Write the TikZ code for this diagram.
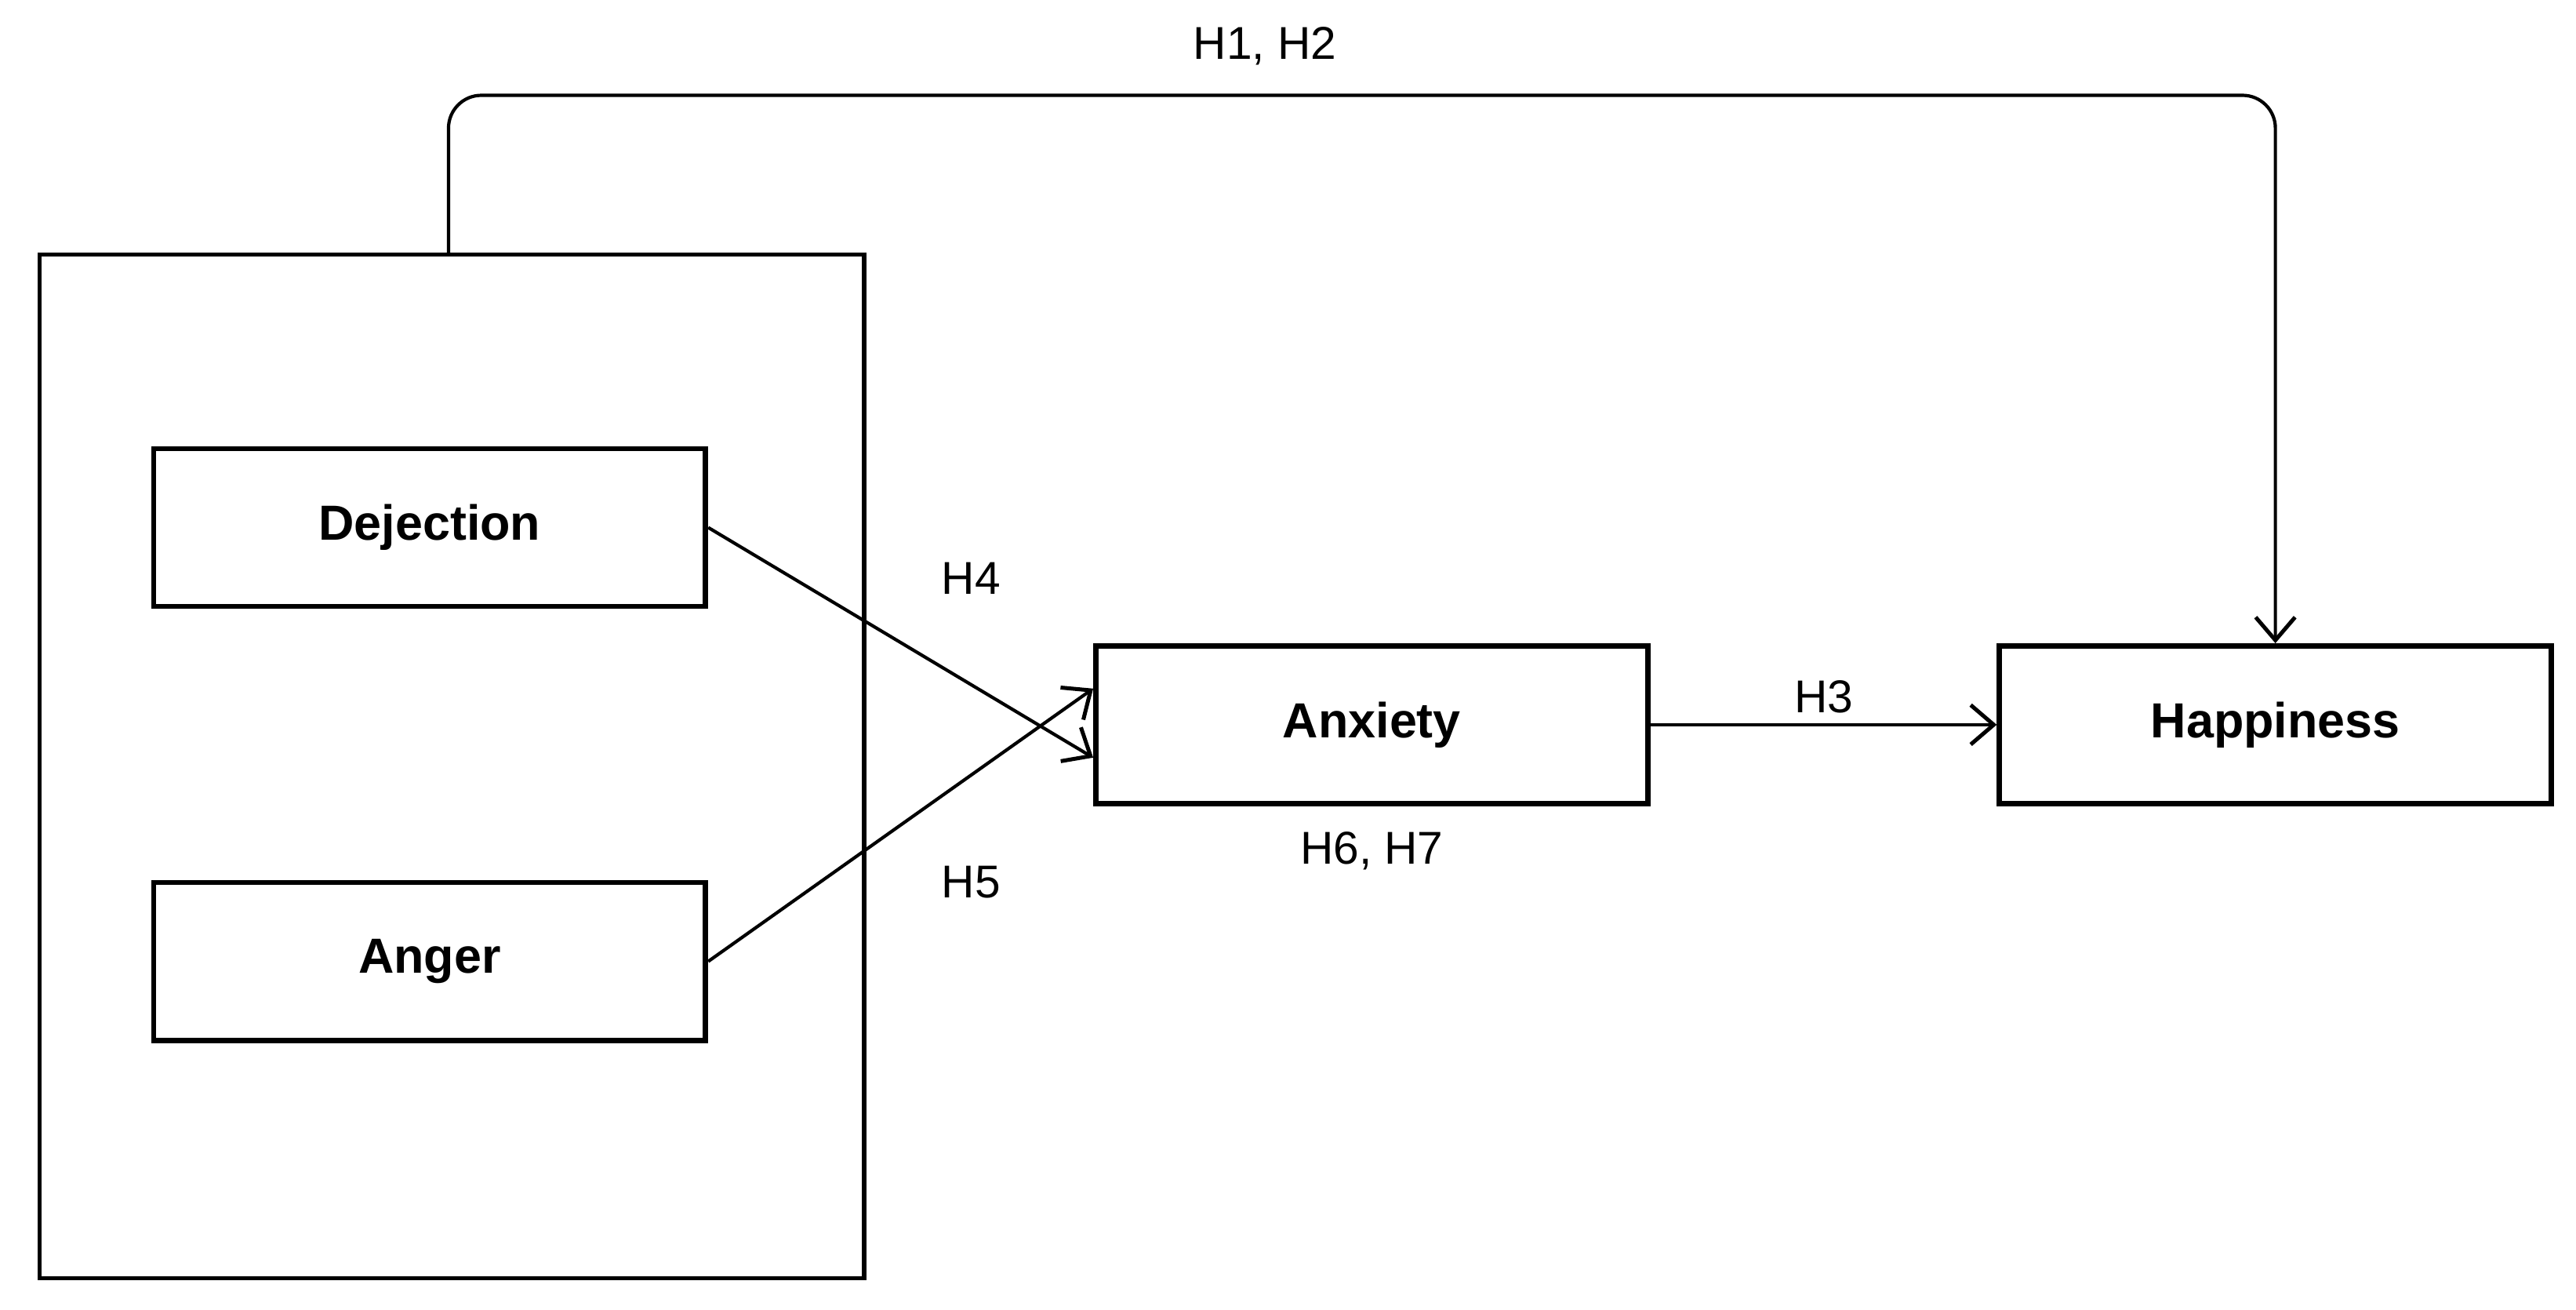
\documentclass[tikz,border=0pt]{standalone}
\usepackage{fontspec}
\setmainfont{Liberation Sans}
\usetikzlibrary{arrows.meta}
\begin{document}
\begin{tikzpicture}[x=0.5pt,y=-0.5pt,
  box/.style={draw,line width=1.6pt,minimum width=168pt,minimum height=48pt,font=\bfseries\fontsize{15}{18}\selectfont,inner sep=0},
  lab/.style={font=\fontsize{14}{16}\selectfont},
  arr/.style={draw,line width=1pt,-{Straight Barb[length=7pt,width=12pt,line width=1.2pt]}}]
\useasboundingbox[fill=white] (0,0) rectangle (1568,797);
\node[draw,line width=1.2pt,minimum width=251pt,minimum height=311.5pt,inner sep=0] (outer) at (275,466.5) {};
\node[box] (dej) at (261.5,321) {Dejection};
\node[box] (ang) at (261.5,585) {Anger};
\node[box] (anx) at (835,441) {Anxiety};
\node[box] (hap) at (1385,441) {Happiness};
\coordinate (top) at (273,155);
\draw[arr,rounded corners=10pt] (top) -- (273,58) -- (1385,58) -- (hap.north);
\draw[arr] (dej.east) -- ([yshift=-10pt]anx.west);
\draw[arr] (ang.east) -- ([yshift=11pt]anx.west);
\draw[arr] (anx.east) -- (hap.west);
\node[lab] (l12) at (770,28) {H1, H2};
\node[lab] (l4) at (591,352) {H4};
\node[lab] (l5) at (591,537) {H5};
\node[lab] (l3) at (1110,424) {H3};
\node[lab] (l67) at (835,518) {H6, H7};
\end{tikzpicture}
\end{document}
